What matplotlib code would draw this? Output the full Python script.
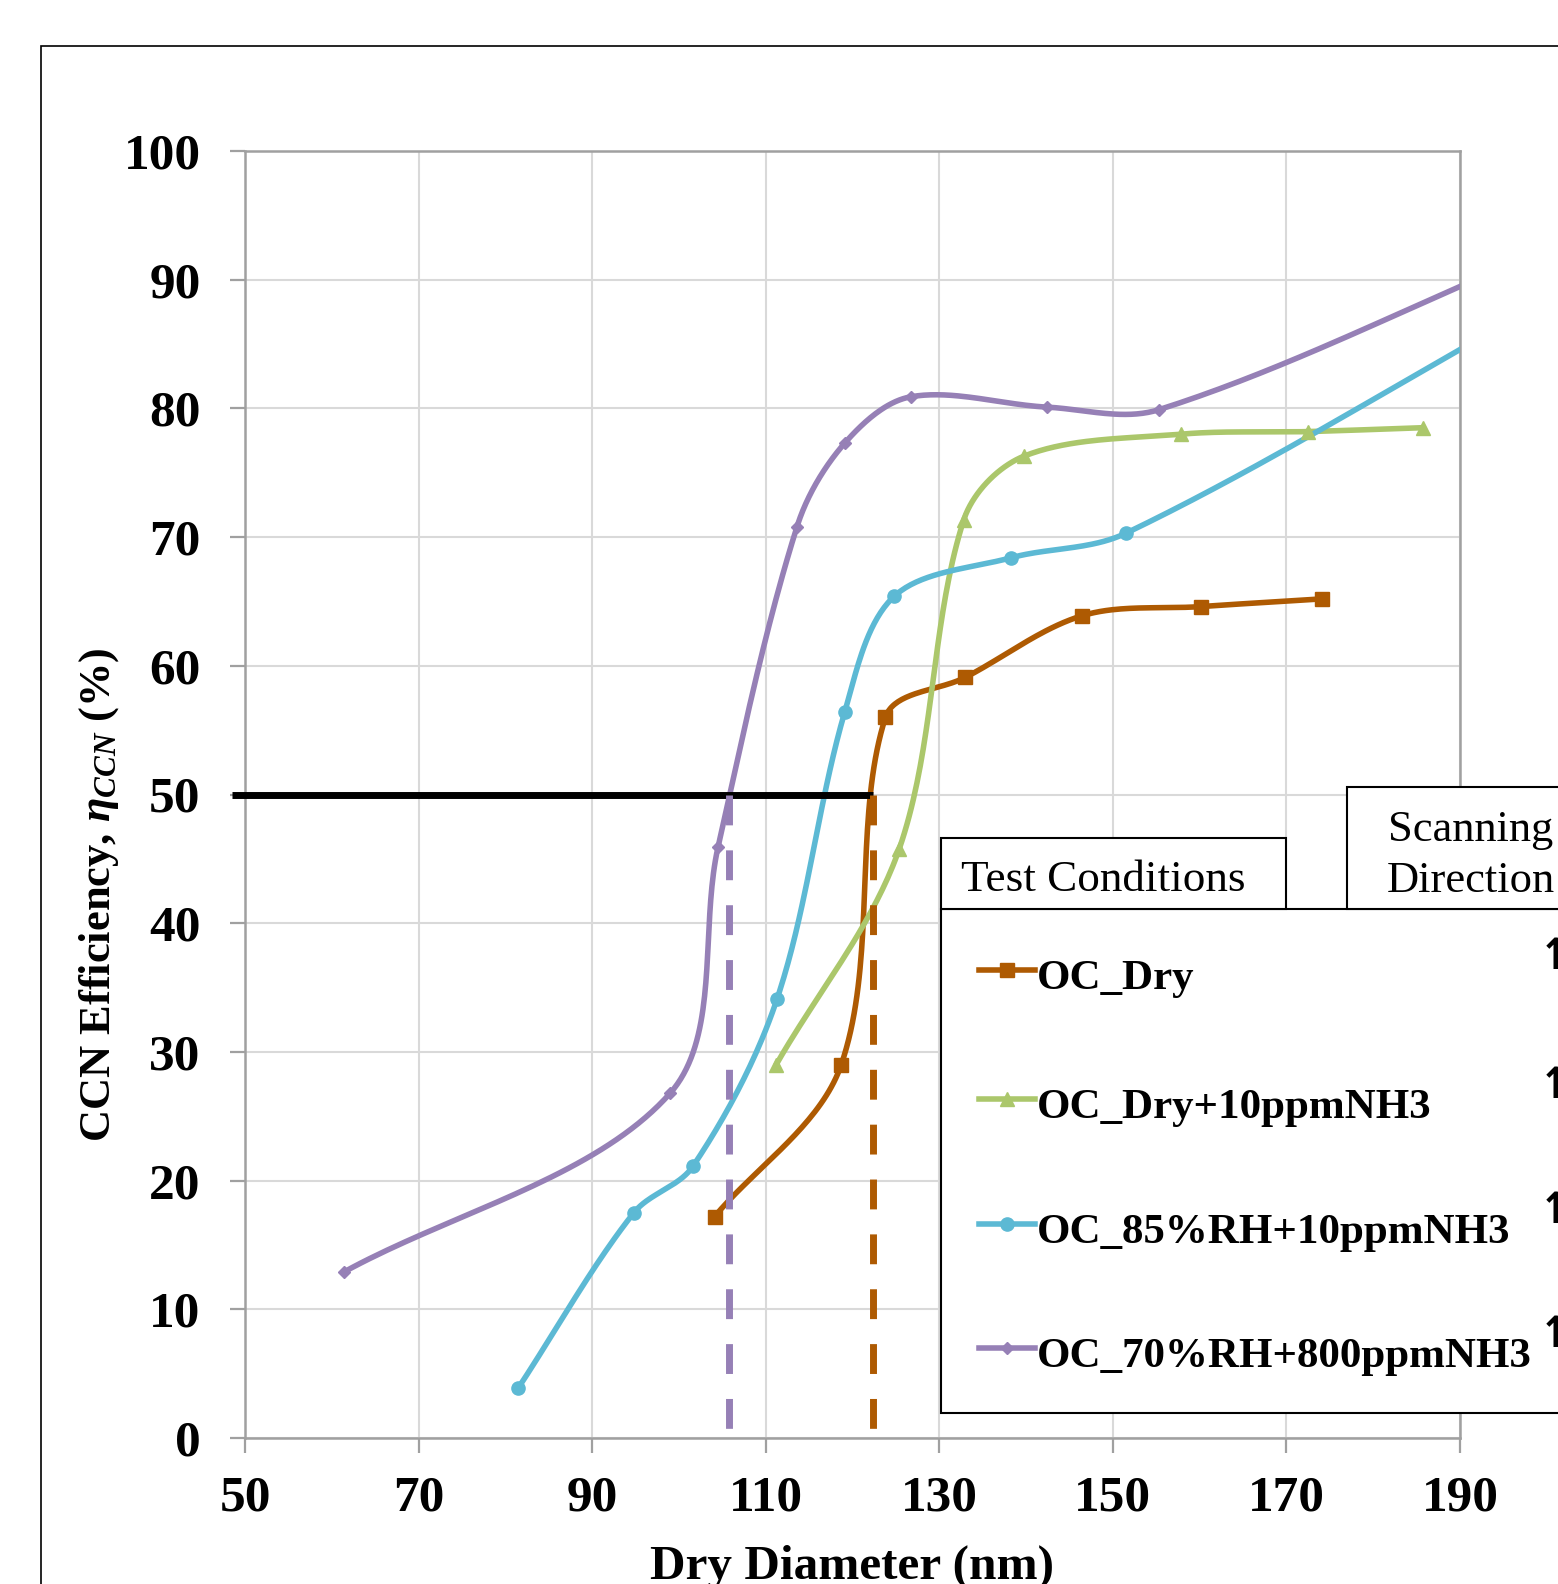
import numpy as np
import matplotlib
matplotlib.use('Agg')
import matplotlib.pyplot as plt
from matplotlib.lines import Line2D
from matplotlib.patches import Rectangle

# values
dry_x = [104.1, 118.7, 123.8, 133.0, 146.5, 160.1, 174.1]
dry_y = [17.2, 29.0, 56.0, 59.1, 63.9, 64.6, 65.2]
nh3_x = [111.2, 125.4, 132.8, 139.8, 157.9, 172.5, 185.7]
nh3_y = [29.0, 45.8, 71.3, 76.3, 78.0, 78.2, 78.5]
rh85_x = [81.5, 94.8, 101.6, 111.3, 119.1, 124.8, 138.3, 151.5, 200.0]
rh85_y = [3.9, 17.5, 21.1, 34.1, 56.4, 65.4, 68.4, 70.3, 88.4]
rh70_x = [61.4, 99.0, 104.5, 113.6, 119.1, 126.7, 142.4, 155.3, 200.0]
rh70_y = [12.9, 26.8, 45.9, 70.8, 77.3, 80.9, 80.1, 79.9, 92.4]

labels = ['OC_Dry', 'OC_Dry+10ppmNH3', 'OC_85%RH+10ppmNH3', 'OC_70%RH+800ppmNH3']
colors = ['#AE5A02', '#ABC76B', '#5CB9D4', '#9680B6']
markers = ['s', '^', 'o', 'D']
msizes = [9.5, 9.5, 9.5, 6.5]

d50_70rh = 105.8   # purple dashed line
d50_dry = 122.4    # orange dashed line

W, H = 1558, 1584
plt.rcParams['font.family'] = 'Liberation Serif'
plt.rcParams['mathtext.fontset'] = 'custom'
plt.rcParams['mathtext.rm'] = 'Liberation Serif:bold'
plt.rcParams['mathtext.it'] = 'Liberation Serif:italic:bold'
plt.rcParams['mathtext.bf'] = 'Liberation Serif:bold'

SX, SY = 8.67, 12.87  # px per data unit, for the smoothing distances


def smooth(x, y, n=40):
    # Excel-like smoothed line: bezier with tangents weighted by segment lengths
    p = np.column_stack([x, y]).astype(float)
    p = np.vstack([p[0], p, p[-1]])
    sc = np.array([SX, SY])

    def dist(a, b):
        return np.hypot(*((b - a) * sc)) + 1e-9

    out = []
    for i in range(1, len(p) - 2):
        p0, p1, p2, p3 = p[i - 1], p[i], p[i + 1], p[i + 2]
        d01, d12, d23 = dist(p0, p1), dist(p1, p2), dist(p2, p3)
        c1 = p1 + (p2 - p0) * d12 / (d01 + d12) / 3
        c2 = p2 - (p3 - p1) * d12 / (d12 + d23) / 3
        t = np.linspace(0, 1, n)[:, None]
        b = (1 - t) ** 3 * p1 + 3 * (1 - t) ** 2 * t * c1 + 3 * (1 - t) * t ** 2 * c2 + t ** 3 * p2
        out.append(b)
    b = np.vstack(out)
    return b[:, 0], b[:, 1]


def fx(px):
    return px / W


def fy(py):
    return 1 - py / H


fig = plt.figure(figsize=(W / 100, H / 100), dpi=100)
ax = fig.add_axes([fx(245), fy(1438), fx(1460) - fx(245), fy(151) - fy(1438)])

series = [(dry_x, dry_y), (nh3_x, nh3_y), (rh85_x, rh85_y), (rh70_x, rh70_y)]
for (x, y), c, m, ms in zip(series, colors, markers, msizes):
    sx, sy = smooth(x, y)
    ax.plot(sx, sy, color=c, lw=4.0, solid_capstyle='round', zorder=3)
    ax.plot(x, y, ls='none', marker=m, color=c, ms=ms, zorder=4)

# 50 % line and cut-off diameters
ax.plot([48.5, d50_dry], [50, 50], color='black', lw=5, solid_capstyle='butt', clip_on=False, zorder=5)
ax.plot([d50_70rh, d50_70rh], [50, 0], color=colors[3], lw=5, ls=(0, (4.3, 3.6)),
        dash_capstyle='butt', zorder=5)
ax.plot([d50_dry, d50_dry], [50, 0], color=colors[0], lw=5, ls=(0, (4.3, 3.6)),
        dash_capstyle='butt', zorder=5)

ax.set_xlim(50, 190)
ax.set_ylim(0, 100)
ax.set_xticks(np.arange(50, 191, 20))
ax.set_yticks(np.arange(0, 101, 10))
ax.grid(True, color='#d9d9d9', lw=1.5)
ax.set_axisbelow(True)
for s in ax.spines.values():
    s.set_color('#a0a0a0')
    s.set_linewidth(1.8)
ax.tick_params(length=11, width=1.6, color='#a0a0a0', labelsize=37)
ax.tick_params(axis='y', pad=21)
ax.tick_params(axis='x', pad=16)
for lab in ax.get_xticklabels() + ax.get_yticklabels():
    lab.set_fontweight('bold')

fig.text(fx(99), fy(895), r'CCN Efficiency, $\eta_{CCN}$ (%)', rotation=90,
         ha='center', va='center', fontsize=32, fontweight='bold')
fig.text(fx(852), fy(1545), 'Dry Diameter (nm)', ha='center', va='top',
         fontsize=35.5, fontweight='bold')

# outer chart frame (extends past the cropped picture)
fig.patches.append(Rectangle((fx(41), fy(1700)), fx(1700) - fx(41), fy(46) - fy(1700),
                             transform=fig.transFigure, fill=False, ec='black', lw=1.2))


# legend boxes
def box(x0, y0, x1, y1):
    fig.patches.append(Rectangle((fx(x0), fy(y1)), fx(x1) - fx(x0), fy(y0) - fy(y1),
                                 transform=fig.transFigure, fc='white', ec='black', lw=1.5, zorder=6))


box(941, 909, 1700, 1413)
box(941, 838, 1286, 909)
box(1347, 787, 1700, 909)
fig.text(fx(961), fy(880), 'Test Conditions', ha='left', va='center', fontsize=32.5, zorder=7)
fig.text(fx(1471), fy(830), 'Scanning', ha='center', va='center', fontsize=32, zorder=7)
fig.text(fx(1471), fy(881), 'Direction', ha='center', va='center', fontsize=32, zorder=7)

rows = [979, 1108, 1233, 1357]
for r, lab, c, m, ms in zip(rows, labels, colors, markers, msizes):
    fig.add_artist(Line2D([fx(979), fx(1035)], [fy(r - 9), fy(r - 9)], color=c, lw=4.0,
                          transform=fig.transFigure, zorder=8))
    fig.add_artist(Line2D([fx(1007)], [fy(r - 9)], color=c, marker=m, ms=ms,
                          transform=fig.transFigure, zorder=8))
    fig.text(fx(1037), fy(r), lab, ha='left', va='center', fontsize=31,
             fontweight='bold', zorder=8)
    fig.text(fx(1538), fy(r - 22), '\u2191', ha='left', va='center', fontsize=31,
             fontweight='bold', family='DejaVu Sans', zorder=8)

fig.savefig('out.png', dpi=100)
